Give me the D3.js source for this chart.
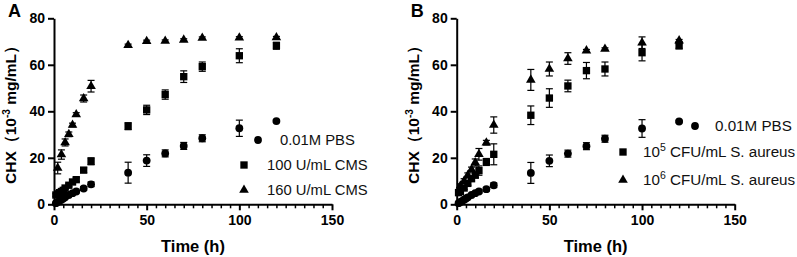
<!DOCTYPE html>
<html><head>
<meta charset="utf-8">
<script src="https://d3js.org/d3.v7.min.js"></script>
<style>
body { margin: 0; background: #fff; }
svg { display: block; font-family: Arial, "Liberation Sans", sans-serif; }
.axis path, .axis line { stroke: #000; }
.axis text { font-weight: bold; font-size: 14px; fill: #000; }
</style>
</head>
<body>
<svg id="chart" width="797" height="257"></svg>
<script>
// Panel A: release in PBS vs CMS (time in h, CHX in 10^-3 mg/mL)
const timeFull = [1, 2, 3, 4, 5, 6, 8, 10, 12, 16, 20, 40, 50, 60, 70, 80, 100, 120];
const timeTri = [2, 4, 6, 8, 10, 12, 16, 20, 40, 50, 60, 70, 80, 100, 120];
const timeSa5 = [1, 2, 4, 6, 8, 10, 12, 16, 20, 40, 50, 60, 70, 80, 100, 120];

const pbsA = [0.5, 1, 1.5, 2, 2.5, 3, 4, 4.8, 5.5, 6.8, 8.6, 13.6, 18.8, 21.9, 25.1, 28.4, 32.7, 35.8];
const pbsAErr = [0.3, 0.3, 0.3, 0.4, 0.4, 0.4, 0.5, 0.5, 0.6, 0.8, 1, 4.5, 2.5, 1.5, 1.5, 1.5, 3.5, 0.5];
const cms100 = [4, 4.5, 5, 5.5, 6, 7, 8.2, 9.6, 10.6, 14.7, 18.5, 33.6, 40.6, 47.2, 54.9, 59.2, 63.9, 68.2];
const cms100Err = [0.5, 0.5, 0.5, 0.5, 0.5, 0.5, 0.6, 0.6, 0.8, 1, 1.5, 1.5, 2, 2, 2.5, 2, 3, 1.5];
const cms160 = [15.6, 21.4, 26.6, 30.1, 34.1, 38.6, 45.5, 50.8, 68.4, 70.1, 70.2, 70.7, 71.5, 71.6, 71.7];
const cms160Err = [2.5, 2, 1.5, 1, 0.8, 0.8, 1.5, 2.5, 0.5, 0.5, 0.5, 0.5, 0.5, 0.5, 0.5];

// Panel B: release in PBS vs S. aureus
const pbsB = [0.5, 1, 1.5, 2, 2.5, 3, 4, 4.8, 5.5, 6.5, 8.2, 13.5, 18.7, 21.8, 25, 28.2, 32.6, 35.6];
const pbsBErr = [0.3, 0.3, 0.3, 0.4, 0.4, 0.4, 0.5, 0.5, 0.6, 0.8, 1, 4.5, 2.5, 1.5, 1.5, 1.5, 3.8, 0.5];
const sa5 = [5, 5.5, 7, 9, 11, 12.5, 14.5, 18.2, 21.5, 38.3, 45.7, 50.9, 57.5, 58.2, 65.2, 68.1];
const sa5Err = [0.5, 0.5, 0.6, 0.8, 1, 1, 2, 1.5, 4.5, 4, 4, 2.5, 3.5, 3, 3.5, 1];
const sa6 = [8, 10, 12.5, 15, 18, 21.5, 26.5, 34.1, 53.5, 58.2, 62.7, 66.1, 66.8, 69.5, 70.4];
const sa6Err = [0.8, 1, 1, 1, 1.5, 2.5, 1, 3.5, 4.5, 3, 2.5, 0.5, 0.5, 2.5, 0.5];

const yTicks = [0, 20, 40, 60, 80];
const xTicks = [0, 50, 100, 150];

const svg = d3.select('#chart');
const plotW = 278, plotTop = 18.3, plotBottom = 204.3;

function series(times, vals, errs) {
  return times.map((t, i) => ({ t: t, v: vals[i], e: errs[i] }));
}

const shapes = {
  circle: d3.symbol().type(d3.symbolCircle).size(48),
  square: d3.symbol().type(d3.symbolSquare).size(54),
  triangle: d3.symbol().type(d3.symbolTriangle).size(40)
};

function drawPanel(x0, letter, data, legend) {
  const g = svg.append('g');
  const x = d3.scaleLinear().domain([0, 150]).range([x0, x0 + plotW]);
  const y = d3.scaleLinear().domain([0, 80]).range([plotBottom, plotTop]);

  // minor ticks on x
  g.append('g')
    .attr('class', 'axis')
    .attr('transform', `translate(0,${plotBottom})`)
    .call(d3.axisBottom(x).tickValues(d3.range(5, 150, 5).filter(d => d % 50 !== 0))
      .tickSize(4).tickFormat(''))
    .call(a => a.select('.domain').remove())
    .selectAll('line').attr('stroke-width', 1.5);

  const xAxis = g.append('g')
    .attr('class', 'axis')
    .attr('transform', `translate(0,${plotBottom})`)
    .call(d3.axisBottom(x).tickValues(xTicks).tickSize(6).tickSizeOuter(0).tickPadding(5));
  xAxis.select('.domain').attr('stroke-width', 2);
  xAxis.selectAll('line').attr('stroke-width', 2);

  const yAxis = g.append('g')
    .attr('class', 'axis')
    .attr('transform', `translate(${x0},0)`)
    .call(d3.axisLeft(y).tickValues(yTicks).tickSize(6).tickSizeOuter(0).tickPadding(3));
  yAxis.select('.domain').attr('stroke-width', 2);
  yAxis.selectAll('line').attr('stroke-width', 2);

  // axis titles
  g.append('text')
    .attr('x', x0 + plotW / 2).attr('y', 252)
    .attr('text-anchor', 'middle')
    .style('font-weight', 'bold').style('font-size', '16.5px')
    .text('Time (h)');

  const yt = g.append('text')
    .attr('transform', `translate(${x0 - 38},111) rotate(-90)`)
    .attr('text-anchor', 'middle')
    .style('font-weight', 'bold').style('font-size', '15.5px');
  yt.append('tspan').text('CHX（10');
  yt.append('tspan').attr('dy', -6).style('font-size', '10px').text('-3');
  yt.append('tspan').attr('dy', 6).text(' mg/mL）');

  g.append('text')
    .attr('x', x0 - 46).attr('y', 17)
    .style('font-weight', 'bold').style('font-size', '18px')
    .text(letter);

  // error bars and markers
  data.forEach(s => {
    const pts = s.points;
    const eb = g.append('g').attr('stroke', '#000').attr('stroke-width', 1.2);
    pts.forEach(p => {
      const cx = x(p.t);
      eb.append('line').attr('x1', cx).attr('x2', cx).attr('y1', y(p.v - p.e)).attr('y2', y(p.v + p.e));
      eb.append('line').attr('x1', cx - 3.5).attr('x2', cx + 3.5).attr('y1', y(p.v - p.e)).attr('y2', y(p.v - p.e));
      eb.append('line').attr('x1', cx - 3.5).attr('x2', cx + 3.5).attr('y1', y(p.v + p.e)).attr('y2', y(p.v + p.e));
    });
    g.append('g').selectAll('path').data(pts).join('path')
      .attr('d', shapes[s.shape])
      .attr('transform', p => `translate(${x(p.t)},${y(p.v)})`)
      .attr('fill', '#000');
  });

  // legend
  legend.forEach(l => {
    g.append('path')
      .attr('d', shapes[l.shape])
      .attr('transform', `translate(${l.mx},${l.y})`)
      .attr('fill', '#000');
    const t = g.append('text')
      .attr('x', l.tx).attr('y', l.y + 5)
      .style('font-size', l.size + 'px').attr('fill', '#111');
    if (l.sup) {
      t.append('tspan').text('10');
      t.append('tspan').attr('dy', -6).style('font-size', '10.5px').text(l.sup);
      t.append('tspan').attr('dy', 6).text(l.label);
    } else {
      t.text(l.label);
    }
  });
}

drawPanel(54, 'A', [
  { shape: 'circle', points: series(timeFull, pbsA, pbsAErr) },
  { shape: 'square', points: series(timeFull, cms100, cms100Err) },
  { shape: 'triangle', points: series(timeTri, cms160, cms160Err) }
], [
  { shape: 'circle', mx: 258, tx: 280, y: 140, size: 14.8, label: '0.01M PBS' },
  { shape: 'square', mx: 244, tx: 267, y: 165, size: 14.8, label: '100 U/mL CMS' },
  { shape: 'triangle', mx: 244, tx: 267, y: 190, size: 14.8, label: '160 U/mL CMS' }
]);

drawPanel(456.7, 'B', [
  { shape: 'circle', points: series(timeFull, pbsB, pbsBErr) },
  { shape: 'square', points: series(timeSa5, sa5, sa5Err) },
  { shape: 'triangle', points: series(timeTri, sa6, sa6Err) }
], [
  { shape: 'circle', mx: 695, tx: 715, y: 126, size: 15.2, label: '0.01M PBS' },
  { shape: 'square', mx: 623, tx: 643, y: 152, size: 15.2, sup: '5', label: ' CFU/mL S. aureus' },
  { shape: 'triangle', mx: 623, tx: 643, y: 180, size: 15.2, sup: '6', label: ' CFU/mL S. aureus' }
]);
</script>
</body></html>
